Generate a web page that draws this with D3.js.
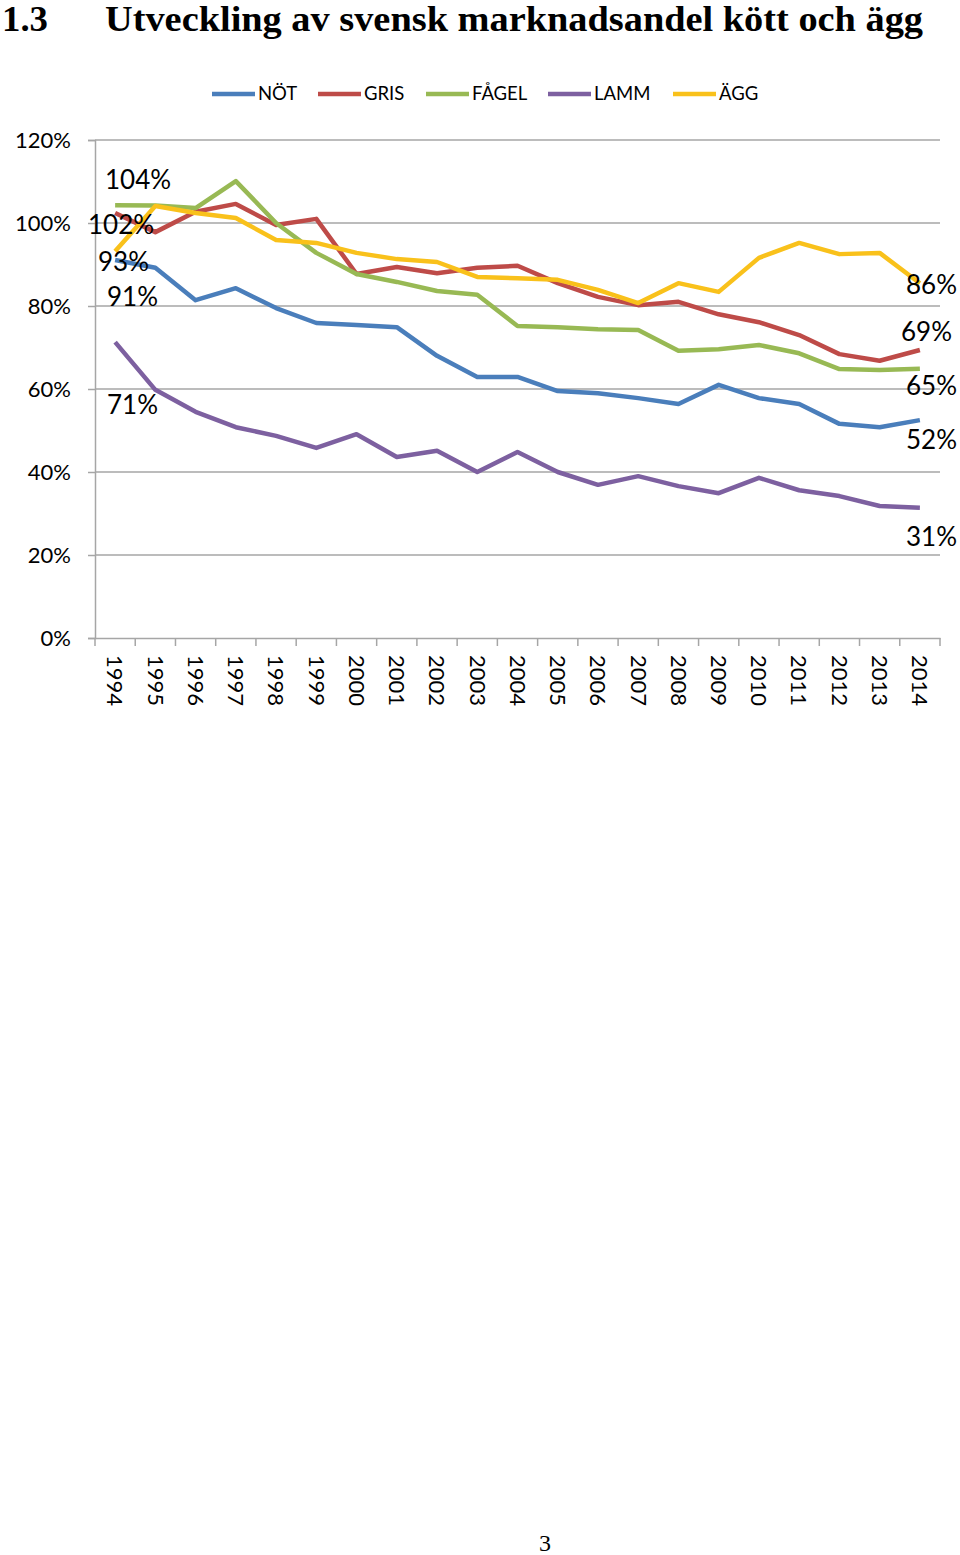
<!DOCTYPE html>
<html><head><meta charset="utf-8">
<script src="https://cdn.jsdelivr.net/npm/d3@7"></script>
<style>body{margin:0;background:#fff}svg{display:block}</style>
</head><body>
<script>
const years = ["1994","1995","1996","1997","1998","1999","2000","2001","2002","2003","2004","2005","2006","2007","2008","2009","2010","2011","2012","2013","2014"];
const seriesNames = ["NÖT","GRIS","FÅGEL","LAMM","ÄGG"];
const seriesColors = ["#4A7EBB","#BE4B48","#98B954","#7D60A0","#F9C11B"];
const not   = [91.1,89.2,81.4,84.3,79.5,75.9,75.4,74.9,68.0,62.9,62.9,59.5,59.0,57.8,56.4,61.0,57.8,56.4,51.6,50.8,52.5];
const gris  = [102.4,97.8,102.7,104.6,99.5,101.0,87.7,89.4,87.9,89.2,89.7,85.5,82.2,80.2,81.0,78.0,76.1,73.0,68.4,66.8,69.4];
const fagel = [104.3,104.2,103.6,110.1,100.0,92.8,87.7,85.8,83.6,82.7,75.2,74.9,74.4,74.2,69.2,69.6,70.6,68.6,64.8,64.6,64.9];
const lamm  = [71.3,59.8,54.5,50.8,48.7,45.8,49.1,43.6,45.1,40.0,44.8,40.0,36.9,39.0,36.6,34.9,38.6,35.6,34.2,31.8,31.4];
const agg   = [93.2,104.1,102.4,101.2,95.9,95.2,92.8,91.3,90.6,87.0,86.7,86.3,83.9,80.7,85.5,83.4,91.6,95.2,92.5,92.8,85.5];
const yTicks = [0,20,40,60,80,100,120];
const startLabels = ["91%","102%","104%","71%","93%"];
const endLabels = ["52%","69%","65%","31%","86%"];

const allSeries = [not,gris,fagel,lamm,agg];
const W=960,H=1555;
const svg=d3.select("body").append("svg").attr("width",W).attr("height",H);
const font="Lato, 'Open Sans', sans-serif";

// Title
svg.append("text").attr("x",2).attr("y",31).attr("font-family","'Liberation Serif', serif").attr("font-weight","bold").attr("font-size",35)
  .attr("textLength",46).attr("lengthAdjust","spacingAndGlyphs").text("1.3");
svg.append("text").attr("x",105).attr("y",31).attr("font-family","'Liberation Serif', serif").attr("font-weight","bold").attr("font-size",35)
  .attr("textLength",818).attr("lengthAdjust","spacingAndGlyphs").text("Utveckling av svensk marknadsandel kött och ägg");

const x=d3.scaleBand().domain(years).range([95,940]);
const y=d3.scaleLinear().domain([0,120]).range([638,140]);

// gridlines
svg.append("g").selectAll("line").data(yTicks.filter(d=>d>0)).join("line")
  .attr("x1",95).attr("x2",940).attr("y1",d=>y(d)).attr("y2",d=>y(d))
  .attr("stroke","#a6a6a6").attr("stroke-width",1.5);

// y axis
const yAxis=d3.axisLeft(y).tickValues(yTicks).tickFormat(d=>d+"%").tickSize(7).tickPadding(17);
const ya=svg.append("g").attr("transform","translate(95,0)").call(yAxis);
ya.select(".domain").attr("stroke","#a6a6a6").attr("stroke-width",1.5);
ya.selectAll(".tick line").attr("stroke","#a6a6a6").attr("stroke-width",1.5);
ya.selectAll("text").attr("font-family",font).attr("font-size",22).attr("fill","#000");

// x axis
const xa=svg.append("g").attr("transform","translate(0,638)").call(d3.axisBottom(x).tickSize(0));
xa.select(".domain").attr("stroke","#a6a6a6").attr("stroke-width",1.5);
xa.selectAll(".tick text").attr("font-family",font).attr("font-size",22).attr("fill","#000")
  .attr("transform","rotate(90)").attr("text-anchor","start").attr("dy","0.35em").attr("x",17).attr("y",0);
// category boundary ticks
svg.append("g").selectAll("line").data(years.concat(["end"])).join("line")
  .attr("x1",(d,i)=>i<years.length?x(d):x.range()[1]).attr("x2",(d,i)=>i<years.length?x(d):x.range()[1])
  .attr("y1",638).attr("y2",646).attr("stroke","#a6a6a6").attr("stroke-width",1.5);

// lines
const line=d3.line().x((d,i)=>x(years[i])+x.bandwidth()/2).y(d=>y(d));
svg.append("g").selectAll("path").data(allSeries).join("path")
  .attr("d",line).attr("fill","none").attr("stroke",(d,i)=>seriesColors[i]).attr("stroke-width",4.5)
  .attr("stroke-linejoin","round");

// data labels
const startPos=[[107,306],[88,234],[105,189],[107,414],[98,271]];
svg.append("g").selectAll("text").data(startLabels).join("text")
  .attr("x",(d,i)=>startPos[i][0]).attr("y",(d,i)=>startPos[i][1])
  .attr("font-family",font).attr("font-size",26).attr("fill","#000").text(d=>d);
const endPos=[[957,449],[952,341],[957,395],[957,546],[957,294]];
svg.append("g").selectAll("text").data(endLabels).join("text")
  .attr("x",(d,i)=>endPos[i][0]).attr("y",(d,i)=>endPos[i][1]).attr("text-anchor","end")
  .attr("font-family",font).attr("font-size",26).attr("fill","#000").text(d=>d);

// legend
const legX=[212,318,426,548,673];
const lg=svg.append("g").selectAll("g").data(seriesNames).join("g").attr("transform",(d,i)=>`translate(${legX[i]},94)`);
lg.append("line").attr("x1",0).attr("x2",43).attr("stroke",(d,i)=>seriesColors[i]).attr("stroke-width",4.5);
lg.append("text").attr("x",46).attr("dy","0.35em").attr("font-family",font).attr("font-size",18.5).text(d=>d);

// page number
svg.append("text").attr("x",545).attr("y",1551).attr("text-anchor","middle").attr("font-family","'Liberation Serif', serif").attr("font-size",24).text("3");
</script>
</body></html>
